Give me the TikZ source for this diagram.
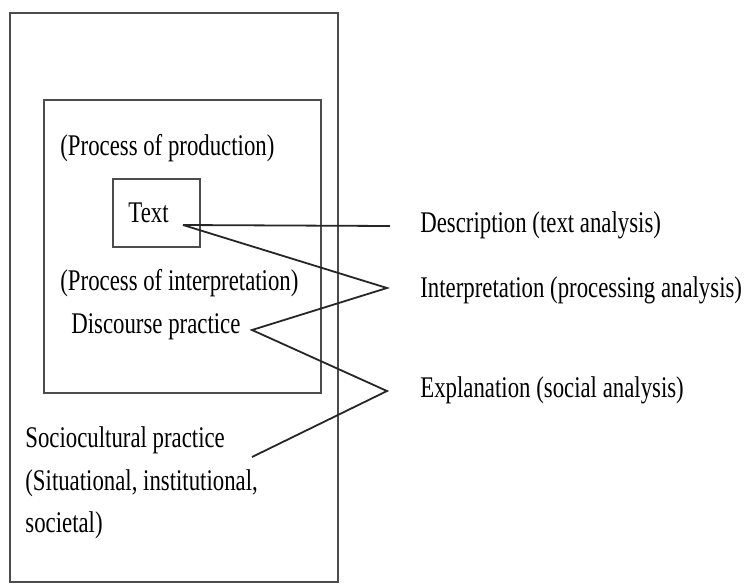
\documentclass[tikz,border=0pt]{standalone}
\usepackage{fontspec}
\setmainfont{Liberation Serif}[FakeStretch=0.76]
\begin{document}
\begin{tikzpicture}[x=0.5pt,y=-0.5pt,
  frame/.style={draw=black!70, line width=1.1pt},
  lbl/.style={anchor=base west, inner sep=0pt, font=\fontsize{15}{18}\selectfont, text=black},
  link/.style={draw=black!85, line width=0.9pt, line join=miter}]
\useasboundingbox (0,0) rectangle (746,585);

% nested frames: sociocultural practice > discourse practice > text
\draw[frame] (10,13) rectangle (338,582);
\draw[frame] (44,100) rectangle (321,393);
\draw[frame] (113,179) rectangle (200,247);

% labels inside the frames
\node[lbl] (prod) at (60,155) {(Process of production)};
\node[lbl] (text) at (128,222) {Text};
\node[lbl] (interp) at (60,290) {(Process of interpretation)};
\node[lbl] (disc) at (71,333) {Discourse practice};
\node[lbl] (socio1) at (25,447) {Sociocultural practice};
\node[lbl] (socio2) at (25,490) {(Situational, institutional,};
\node[lbl] (socio3) at (25,532) {societal)};

% dimensions of analysis
\node[lbl] (descr) at (420,232) {Description (text analysis)};
\node[lbl] (interpa) at (420,297) {Interpretation (processing analysis)};
\node[lbl] (expl) at (420,397) {Explanation (social analysis)};

% connector end points
\coordinate (textout) at (183,225);
\coordinate (discout) at (252,330);
\coordinate (sociout) at (252,457);
\coordinate (descrin) at (390,226);
\coordinate (interpin) at (387,288);
\coordinate (explin) at (387,391);

\draw[link] (textout) -- (descrin);
\draw[link] (textout) -- (interpin) -- (discout) -- (explin) -- (sociout);
\end{tikzpicture}
\end{document}
